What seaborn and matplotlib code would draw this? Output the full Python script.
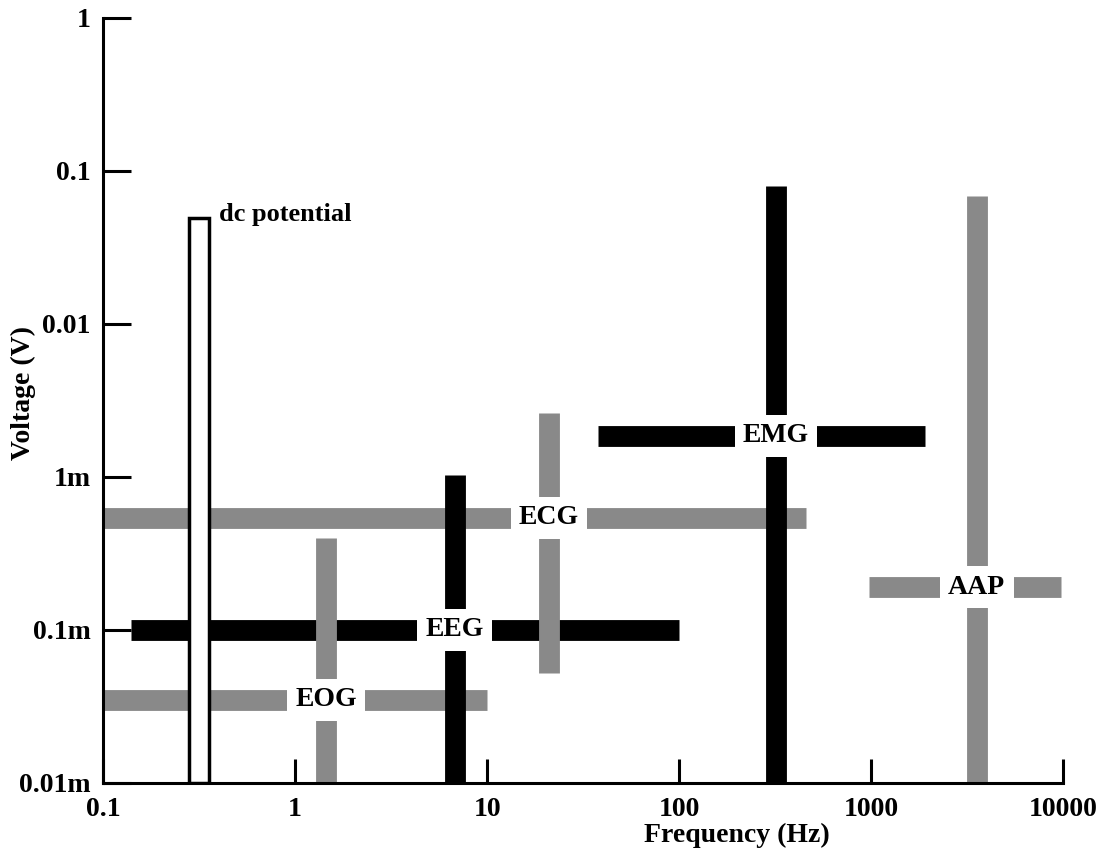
import numpy as np
import pandas as pd
import seaborn as sns
import matplotlib.pyplot as plt
from matplotlib.ticker import NullLocator

# signal bands: each one is a horizontal bar (frequency span at one voltage)
# crossed by a vertical bar (voltage span at one frequency)
signals = ["EOG", "EEG", "ECG", "EMG", "AAP"]
shade = ["gray", "black", "gray", "black", "gray"]

h_volt = [3.5e-5, 1.0e-4, 5.4e-4, 1.85e-3, 1.9e-4]
h_freq_lo = [0.1, 0.14, 0.1, 38, 980]
h_freq_hi = [10, 100, 460, 1900, 9800]

v_freq = [1.45, 6.8, 21, 320, 3550]
v_volt_lo = [1e-5, 1e-5, 5.2e-5, 1e-5, 1e-5]
v_volt_hi = [4.0e-4, 1.03e-3, 2.6e-3, 0.079, 0.068]

# dc potential column
dc_freq_lo, dc_freq_hi = 0.28, 0.357
dc_volt_top = 0.049

x_ticks = [0.1, 1, 10, 100, 1000, 10000]
x_labels = ["0.1", "1", "10", "100", "1000", "10000"]
y_ticks = [1e-5, 1e-4, 1e-3, 1e-2, 1e-1, 1]
y_labels = ["0.01m", "0.1m", "1m", "0.01", "0.1", "1"]


def main():
    custom_params = {"axes.spines.right": False, "axes.spines.top": False,
                     "axes.edgecolor": "black", "axes.linewidth": 2.2,
                     "text.color": "black", "axes.labelcolor": "black",
                     "xtick.color": "black", "ytick.color": "black",
                     "lines.solid_capstyle": "butt"}
    sns.set_theme(style="ticks", rc=custom_params)
    plt.rcParams["font.family"] = ["Liberation Serif", "DejaVu Serif"]
    plt.rcParams["font.weight"] = "bold"

    horiz = pd.DataFrame({
        "signal": np.repeat(signals, 2),
        "freq": [f for lo, hi in zip(h_freq_lo, h_freq_hi) for f in (lo, hi)],
        "volt": np.repeat(h_volt, 2),
    })
    vert = pd.DataFrame({
        "signal": np.repeat(signals, 2),
        "freq": np.repeat(v_freq, 2),
        "volt": [v for lo, hi in zip(v_volt_lo, v_volt_hi) for v in (lo, hi)],
    })
    palette = {"gray": "#898989", "black": "#000000"}
    pal = dict((s, palette[c]) for s, c in zip(signals, shade))

    fig = plt.figure(figsize=(11.01, 8.56), dpi=100)
    ax = fig.add_axes([0.0936, 0.0853, 0.872, 0.894])
    ax.set_xscale("log")
    ax.set_yscale("log")

    # horizontal bars first, vertical bars drawn on top of them
    sns.lineplot(data=horiz, x="freq", y="volt", hue="signal", units="signal",
                 estimator=None, sort=False, palette=pal, linewidth=15,
                 legend=False, ax=ax)
    sns.lineplot(data=vert, x="freq", y="volt", hue="signal", units="signal",
                 estimator=None, sort=False, palette=pal, linewidth=15,
                 legend=False, ax=ax)

    ax.bar(dc_freq_lo, dc_volt_top - 1e-5, width=dc_freq_hi - dc_freq_lo,
           bottom=1e-5, align="edge", color="white", edgecolor="black",
           linewidth=2.5, zorder=5)
    ax.text(dc_freq_hi * 1.12, dc_volt_top * 1.05, "dc potential", ha="left",
            va="center", fontsize=19, fontweight="bold", color="black", zorder=6)

    for i, s in enumerate(signals):
        ax.text(v_freq[i], h_volt[i], s, ha="center", va="center",
                fontsize=20, fontweight="bold", color="black", zorder=6,
                bbox=dict(boxstyle="square,pad=0.3", fc="white", ec="none"))

    ax.set_xlim(0.1, 10000)
    ax.set_ylim(1e-5, 1)
    ax.set_xticks(x_ticks, x_labels)
    ax.set_yticks(y_ticks, y_labels)
    ax.xaxis.set_minor_locator(NullLocator())
    ax.yaxis.set_minor_locator(NullLocator())
    ax.tick_params(axis="x", direction="in", length=17, width=2.2, pad=10,
                   labelsize=20, colors="black")
    ax.tick_params(axis="y", direction="in", length=20, width=2.2, pad=9,
                   labelsize=20, colors="black")
    for lab in ax.get_xticklabels() + ax.get_yticklabels():
        lab.set_fontweight("bold")

    ax.set_xlabel("Frequency (Hz)", fontsize=20, fontweight="bold")
    ax.set_ylabel("Voltage (V)", fontsize=20, fontweight="bold")
    ax.xaxis.set_label_coords(0.66, -0.052)
    ax.yaxis.set_label_coords(-0.07, 0.51)

    plt.savefig("out.png", dpi=100)


if __name__ == "__main__":
    main()
